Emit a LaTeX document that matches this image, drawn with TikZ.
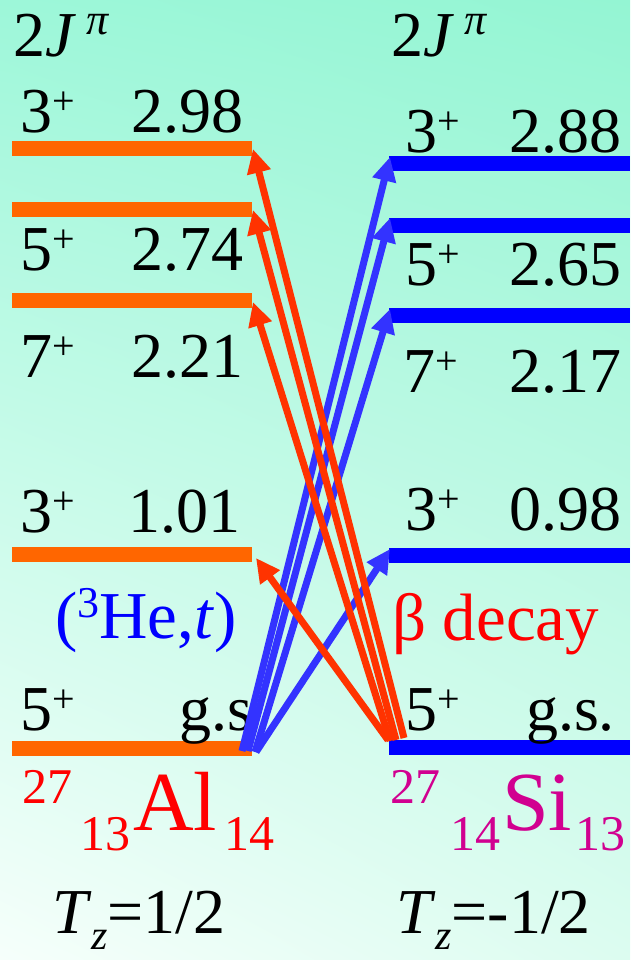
\documentclass[tikz,border=0pt]{standalone}
\usepackage{fontspec}
\setmainfont{Liberation Serif}
\usetikzlibrary{arrows.meta,shadings}
\definecolor{bgTL}{HTML}{9DF7D9}
\definecolor{bgTR}{HTML}{94F5D3}
\definecolor{bgBL}{HTML}{F6FFFB}
\definecolor{bgBR}{HTML}{DCFCF0}
\definecolor{albar}{HTML}{FF6600}
\definecolor{sibar}{HTML}{0000FF}
\definecolor{betaarrow}{HTML}{FF3300}
\definecolor{hetarrow}{HTML}{3333FF}
\definecolor{alred}{HTML}{FF0000}
\definecolor{simag}{HTML}{D10090}
\newcommand\plussup{\raisebox{18pt}{\fontsize{40}{40}\selectfont +}}
\tikzset{
  txt/.style={inner sep=0pt, outer sep=0pt, font=\fontsize{64}{64}\selectfont},
  lvl/.style={txt, anchor=base west},
  en/.style={txt, anchor=base east},
  albarline/.style={albar, line width=15pt},
  sibarline/.style={sibar, line width=15pt},
  betaarr/.style={betaarrow, line width=7pt, -{Triangle[length=24pt,width=23pt]}},
  hetarr/.style={hetarrow, line width=7pt, -{Triangle[length=24pt,width=23pt]}},
  big/.style={inner sep=0pt, outer sep=0pt, anchor=base west, font=\fontsize{84}{84}\selectfont},
  idx/.style={inner sep=0pt, outer sep=0pt, anchor=base west, font=\fontsize{50}{50}\selectfont},
  lab/.style={inner sep=0pt, outer sep=0pt, anchor=base west, font=\fontsize{67}{67}\selectfont},
}
\begin{document}
\begin{tikzpicture}[x=1pt,y=-1pt]
\useasboundingbox (0,0) rectangle (630,960);
\shade[upper left=bgTL, upper right=bgTR, lower left=bgBL, lower right=bgBR] (0,0) rectangle (630,960);

% headers
\node[lvl] (hdl) at (13,57) {2\textit{J}\,\raisebox{22pt}{\fontsize{44}{44}\selectfont\textit{π}}};
\node[lvl] (hdr) at (391,57) {2\textit{J}\,\raisebox{22pt}{\fontsize{44}{44}\selectfont\textit{π}}};

% Al levels
\coordinate (a1l) at (12,149); \coordinate (a1r) at (252,149);
\coordinate (a2l) at (12,209); \coordinate (a2r) at (252,209);
\coordinate (a3l) at (12,300); \coordinate (a3r) at (252,300);
\coordinate (a4l) at (12,554); \coordinate (a4r) at (252,554);
\coordinate (a5l) at (12,748); \coordinate (a5r) at (252,748);
\draw[albarline] (a1l) -- (a1r);
\draw[albarline] (a2l) -- (a2r);
\draw[albarline] (a3l) -- (a3r);
\draw[albarline] (a4l) -- (a4r);
\draw[albarline] (a5l) -- (a5r);

% Si levels
\coordinate (s1l) at (389,164); \coordinate (s1r) at (630,164);
\coordinate (s2l) at (389,225); \coordinate (s2r) at (630,225);
\coordinate (s3l) at (389,315); \coordinate (s3r) at (630,315);
\coordinate (s4l) at (389,555); \coordinate (s4r) at (630,555);
\coordinate (s5l) at (389,747); \coordinate (s5r) at (630,747);
\draw[sibarline] (s1l) -- (s1r);
\draw[sibarline] (s2l) -- (s2r);
\draw[sibarline] (s3l) -- (s3r);
\draw[sibarline] (s4l) -- (s4r);
\draw[sibarline] (s5l) -- (s5r);

% Al labels
\node[lvl] (al1j) at (20,133) {3\plussup};
\node[en]  (al1e) at (243,133) {2.98};
\node[lvl] (al2j) at (20,270) {5\plussup};
\node[en]  (al2e) at (243,270) {2.74};
\node[lvl] (al3j) at (20,377) {7\plussup};
\node[en]  (al3e) at (243,377) {2.21};
\node[lvl] (al4j) at (20,532) {3\plussup};
\node[en]  (al4e) at (240,532) {1.01};
\node[lvl] (al5j) at (20,730) {5\plussup};
\node[lvl] (al5e) at (179,730) {g.s};

% Si labels
\node[lvl] (si1j) at (405,153) {3\plussup};
\node[en]  (si1e) at (621,153) {2.88};
\node[lvl] (si2j) at (405,285) {5\plussup};
\node[en]  (si2e) at (621,285) {2.65};
\node[lvl] (si3j) at (403,392) {7\plussup};
\node[en]  (si3e) at (621,392) {2.17};
\node[lvl] (si4j) at (405,530) {3\plussup};
\node[en]  (si4e) at (621,530) {0.98};
\node[lvl] (si5j) at (405,730) {5\plussup};
\node[en]  (si5e) at (615,730) {g.s.};

% reaction labels
\node[lab, text=sibar] (hel) at (55,638) {(\raisebox{21pt}{\fontsize{44}{44}\selectfont 3}He,\textit{t})};
\node[lab, text=alred] (bdl) at (392,640) {β decay};

% arrow endpoints
\coordinate (hs1) at (242,751);
\coordinate (hs2) at (248,751);
\coordinate (hs3) at (255,752);
\coordinate (hs4) at (256,752);
\coordinate (ht1) at (390,157);
\coordinate (ht2) at (390,218);
\coordinate (ht3) at (390,309);
\coordinate (ht4) at (390,549);
\coordinate (bs1) at (404,738);
\coordinate (bs2) at (396,740);
\coordinate (bs3) at (390,741);
\coordinate (bs4) at (388,740);
\coordinate (bt1) at (253,149);
\coordinate (bt2) at (253,210);
\coordinate (bt3) at (253,302);
\coordinate (bt4) at (256,558);

\draw[hetarr] (hs1) -- (ht1);
\draw[hetarr] (hs2) -- (ht2);
\draw[hetarr] (hs3) -- (ht3);
\draw[hetarr] (hs4) -- (ht4);
\draw[betaarr] (bs1) -- (bt1);
\draw[betaarr] (bs2) -- (bt2);
\draw[betaarr] (bs3) -- (bt3);
\draw[betaarr] (bs4) -- (bt4);

% nuclide labels
\node[idx, text=alred] (alA) at (22,803) {27};
\node[idx, text=alred] (alZ) at (80,850) {13};
\node[big, text=alred] (alS) at (133,830) {Al};
\node[idx, text=alred] (alN) at (224,850) {14};
\node[idx, text=simag] (siA) at (390,803) {27};
\node[idx, text=simag] (siZ) at (450,850) {14};
\node[big, text=simag] (siS) at (502,830) {Si};
\node[idx, text=simag] (siN) at (575,850) {13};

% isospin
\node[lvl] (tzl) at (52,933) {\textit{T}\raisebox{-16pt}{\fontsize{42}{42}\selectfont\textit{z}}=1/2};
\node[lvl] (tzr) at (396,933) {\textit{T}\raisebox{-16pt}{\fontsize{42}{42}\selectfont\textit{z}}=-1/2};
\end{tikzpicture}
\end{document}
